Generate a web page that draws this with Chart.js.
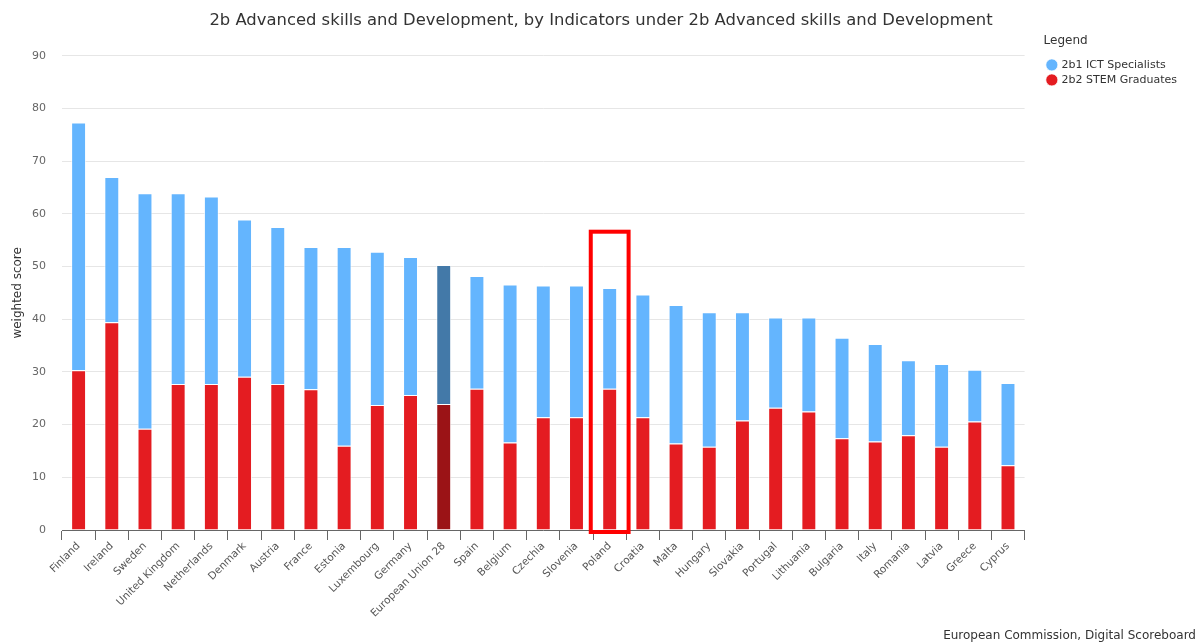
<!DOCTYPE html>
<html>
<head>
<meta charset="utf-8">
<script src="https://cdn.jsdelivr.net/npm/chart.js@4/dist/chart.umd.min.js"></script>
<style>
  body { margin: 0; background: #fff; }
  #wrap { position: relative; width: 1202px; height: 644px; }
  #credits { position: absolute; right: 6px; bottom: 2px; font: 12px "DejaVu Sans", sans-serif; color: #333; }
</style>
</head>
<body>
<div id="wrap">
  <canvas id="chart" width="1202" height="644"></canvas>
  <div id="credits">European Commission, Digital Scoreboard</div>
</div>
<script>
// ===== DATA =====
const negara = ["Finland","Ireland","Sweden","United Kingdom","Netherlands","Denmark","Austria","France","Estonia","Luxembourg","Germany","European Union 28","Spain","Belgium","Czechia","Slovenia","Poland","Croatia","Malta","Hungary","Slovakia","Portugal","Lithuania","Bulgaria","Italy","Romania","Latvia","Greece","Cyprus"];
const stemGraduates = [30.3, 39.4, 19.2, 27.7, 27.7, 29.1, 27.7, 26.7, 16.0, 23.7, 25.6, 23.9, 26.8, 16.6, 21.4, 21.4, 26.8, 21.4, 16.4, 15.8, 20.8, 23.2, 22.5, 17.4, 16.8, 18.0, 15.8, 20.6, 12.3];
const ictSpecialists = [47.0, 27.6, 44.7, 36.2, 35.6, 29.8, 29.8, 27.0, 37.7, 29.1, 26.2, 26.4, 21.4, 30.0, 25.0, 25.0, 19.1, 23.3, 26.3, 25.5, 20.5, 17.1, 17.8, 19.1, 18.5, 14.2, 15.7, 9.8, 15.6];
const yTicks = [0, 10, 20, 30, 40, 50, 60, 70, 80, 90];

const eu = "European Union 28";
const sorot = "Poland";     // kotak merah
const sorotAtas = 56.6;

const font = '"DejaVu Sans", sans-serif';

// ===== KOTAK SOROTAN =====
const kotakSorot = {
  id: 'kotakSorot',
  afterDatasetsDraw(chart) {
    const x = chart.scales.x, y = chart.scales.y;
    const i = negara.indexOf(sorot);
    const cx = x.getPixelForValue(i);
    const half = (x.width / negara.length) * 0.57;
    const top = y.getPixelForValue(sorotAtas);
    const bottom = y.getPixelForValue(0) + 2;
    const ctx = chart.ctx;
    ctx.save();
    ctx.strokeStyle = '#ff0000';
    ctx.lineWidth = 4;
    ctx.strokeRect(cx - half, top, half * 2, bottom - top);
    ctx.restore();
  }
};

// legenda: lebar ditambah supaya judul tetap di tengah, lalu digeser
const geserLegenda = {
  id: 'geserLegenda',
  beforeLayout(chart) {
    const l = chart.legend;
    if (l && !l._lebarDitambah) {
      const fit = l.fit.bind(l);
      l.fit = function() { fit(); this.width += 34; };
      l._lebarDitambah = true;
    }
  },
  afterLayout(chart) {
    const l = chart.legend;
    l.left += 19; l.right += 19;
    l.top += 35; l.bottom += 35;
  }
};

new Chart(document.getElementById('chart'), {
  type: 'bar',
  data: {
    labels: negara,
    datasets: [
      {
        label: '2b2 STEM Graduates',
        data: stemGraduates,
        backgroundColor: ctx => negara[ctx.dataIndex] === eu ? '#9b1316' : '#e41c21',
        borderColor: 'rgba(255,255,255,0.7)',
        borderWidth: 1
      },
      {
        label: '2b1 ICT Specialists',
        data: ictSpecialists,
        backgroundColor: ctx => negara[ctx.dataIndex] === eu ? '#4379a8' : '#64b5fe',
        borderColor: 'rgba(255,255,255,0.7)',
        borderWidth: 1
      }
    ]
  },
  options: {
    responsive: false,
    animation: false,
    datasets: { bar: { categoryPercentage: 1, barPercentage: 0.45 } },
    layout: { padding: 0 },
    plugins: {
      tooltip: { enabled: false },
      title: {
        display: true,
        text: '2b Advanced skills and Development, by Indicators under 2b Advanced skills and Development',
        color: '#333',
        font: { family: font, size: 16.4, weight: 'normal' },
        padding: { top: 11, bottom: 25 }
      },
      legend: {
        position: 'right',
        align: 'start',
        reverse: true,
        title: {
          display: true,
          text: 'Legend',
          position: 'start',
          color: '#333',
          font: { family: font, size: 12, weight: 'normal' },
          padding: { top: 0, bottom: 6 }
        },
        labels: {
          color: '#333',
          font: { family: font, size: 11 },
          usePointStyle: true,
          pointStyle: 'circle',
          boxWidth: 8.5,
          boxHeight: 8.5,
          padding: 4
        }
      }
    },
    scales: {
      x: {
        stacked: true,
        grid: { display: true, drawOnChartArea: false, color: '#666', tickLength: 10, offset: true },
        border: { color: '#666' },
        ticks: { color: '#555', font: { family: font, size: 10.5 }, padding: 0, minRotation: 45, maxRotation: 45, autoSkip: false },
        afterFit(scale) { scale.height = 114; }
      },
      y: {
        stacked: true,
        min: 0,
        max: 90,
        afterBuildTicks(scale) { scale.ticks = yTicks.map(v => ({ value: v })); },
        grid: { color: '#e6e6e6', drawTicks: false },
        border: { display: false },
        ticks: { color: '#666', font: { family: font, size: 11 }, padding: 16 },
        title: { display: true, text: 'weighted score', color: '#333', font: { family: font, size: 12 }, padding: { top: 11, bottom: 0 } },
        afterFit(scale) { scale.width = 62; }
      }
    }
  },
  plugins: [kotakSorot, geserLegenda]
});
</script>
</body>
</html>
